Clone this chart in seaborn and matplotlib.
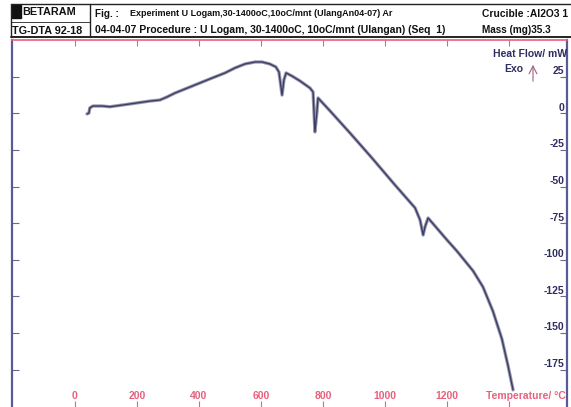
import matplotlib
matplotlib.use("Agg")
import matplotlib.pyplot as plt
import matplotlib.transforms as mtransforms
from matplotlib.lines import Line2D
from matplotlib.patches import Rectangle, FancyArrowPatch
import seaborn as sns
import pandas as pd

# DTA trace
temperature = [39, 45, 48, 58, 71, 87, 113, 177, 242, 274, 297, 323, 371, 435, 484,
               516, 548, 581, 603, 629, 648, 658, 668, 674, 681, 700, 726, 758, 768,
               774, 781, 784, 823, 887, 958, 1032, 1097, 1113, 1123, 1129, 1139, 1200,
               1232, 1284, 1316, 1348, 1377, 1397, 1413]
heat_flow = [-0.3, 0.3, 3.8, 5.1, 5.1, 5.1, 4.6, 6.5, 8.5, 9.2, 11.3, 14.0, 18.1, 23.6, 27.7,
             31.1, 33.8, 35.2, 35.2, 33.8, 31.8, 28.3, 12.6, 22.9, 27.7, 25.6, 22.2, 17.4, 14.7,
             -12.6, 2.4, 10.6, 1.7, -13.3, -30.4, -48.8, -64.5, -72.7, -83.0, -77.5, -71.4, -86.4,
             -94.0, -107.5, -118.5, -135.0, -154.0, -172.5, -188.8]

x_ticks = [0, 200, 400, 600, 800, 1000, 1200]
y_ticks = [25, 0, -25, -50, -75, -100, -125, -150, -175]

pink = "#e8607e"
navy = "#2e2e62"
axis_blue = "#5a5a94"

sns.set_theme(style="white")
plt.rcParams['font.family'] = ['Liberation Sans', 'DejaVu Sans']

W, H = 571, 407
fig = plt.figure(figsize=(W / 100, H / 100), dpi=100)
ax = fig.add_axes([12 / W, 0, (567 - 12) / W, 367 / H])

df = pd.DataFrame({"Temperature": temperature, "HeatFlow": heat_flow})
sns.lineplot(data=df, x="Temperature", y="HeatFlow", ax=ax, sort=False,
             color="#9a9aaa", lw=2.4)
sns.lineplot(data=df, x="Temperature", y="HeatFlow", ax=ax, sort=False,
             color="#3c3c6c", lw=1.0)

ax.set_xlim(-203, 1587)
ax.set_ylim(-200.5, 50.2)
ax.set_xlabel("")
ax.set_ylabel("")

ax.set_xticks(x_ticks + [1400])
ax.set_yticks(y_ticks)
ax.set_xticklabels([])
ax.set_yticklabels([])
ax.tick_params(axis="x", which="both", top=True, bottom=True, direction="in",
               length=4, width=0.8, color=pink)
ax.tick_params(axis="y", which="both", left=True, right=True, direction="in",
               length=5, width=0.8, color="#6a6a8a")

for side in ["left", "right"]:
    ax.spines[side].set_color(axis_blue)
    ax.spines[side].set_linewidth(1.6)
ax.spines["top"].set_color(pink)
ax.spines["top"].set_linewidth(1.2)
ax.spines["bottom"].set_visible(False)

yblend = mtransforms.blended_transform_factory(ax.transAxes, ax.transData)
for v in y_ticks:
    ax.annotate(str(v), xy=(1, v), xycoords=yblend, xytext=(-2, 0.5),
                textcoords="offset points", ha="right", va="bottom",
                fontsize=7.5, fontweight="bold", color=navy)

xblend = mtransforms.blended_transform_factory(ax.transData, ax.transAxes)
for t in x_ticks:
    ax.annotate(str(t), xy=(t, 0), xycoords=xblend, xytext=(0, 4),
                textcoords="offset points", ha="center", va="bottom",
                fontsize=7.5, fontweight="bold", color=pink)
ax.annotate("Temperature/ °C", xy=(1, 0), xycoords="axes fraction", xytext=(-1, 4),
            textcoords="offset points", ha="right", va="bottom",
            fontsize=7.5, fontweight="bold", color=pink)

ax.annotate("Heat Flow/ mW", xy=(1, 1), xycoords="axes fraction", xytext=(0, -14),
            textcoords="offset points", ha="right", va="bottom",
            fontsize=7.5, fontweight="bold", color=navy)
fig.text(523 / W, 1 - 69 / H, "Exo", ha="right", va="center",
         fontsize=7.5, fontweight="bold", color=navy)
fig.add_artist(FancyArrowPatch(
    (533 / W, 1 - 84 / H), (533 / W, 1 - 62 / H), transform=fig.transFigure,
    arrowstyle="->", mutation_scale=14, lw=0.8, color="#a0607e"))

# header box
def hline(y, x0, x1, lw=1.0):
    fig.add_artist(Line2D([x0 / W, x1 / W], [1 - y / H, 1 - y / H], color="#222222", lw=lw))

def vline(x, y0, y1, lw=1.0):
    fig.add_artist(Line2D([x / W, x / W], [1 - y0 / H, 1 - y1 / H], color="#222222", lw=lw))

hline(4, 11, 571)
hline(37, 11, 571, lw=1.4)
hline(22, 11, 90, lw=0.6)
vline(11, 4, 37)
vline(90, 4, 37)
fig.add_artist(Rectangle((12 / W, 1 - 18 / H), 9 / W, 13 / H, transform=fig.transFigure,
                         color="#111111"))
fig.text(22 / W, 1 - 12 / H, "BETARAM", ha="left", va="center", fontsize=7.8,
         fontweight="bold", color="#111111")
fig.text(12 / W, 1 - 31 / H, "TG-DTA 92-18", ha="left", va="center", fontsize=7.8,
         fontweight="bold", color="#111111")

hdr = dict(fontweight="bold", color="#111111", va="center", ha="left")
fig.text(95 / W, 1 - 14 / H, "Fig. :", fontsize=7.2, **hdr)
fig.text(130 / W, 1 - 14 / H, "Experiment U Logam,30-1400oC,10oC/mnt (UlangAn04-07) Ar",
         fontsize=6.5, **hdr)
fig.text(482 / W, 1 - 14 / H, "Crucible :Al2O3 1", fontsize=7.4, **hdr)
fig.text(95 / W, 1 - 30 / H, "04-04-07 Procedure : U Logam, 30-1400oC, 10oC/mnt (Ulangan) (Seq  1)",
         fontsize=7.45, **hdr)
fig.text(482 / W, 1 - 30 / H, "Mass (mg)35.3", fontsize=7.2, **hdr)

fig.savefig("out.png", dpi=100)
